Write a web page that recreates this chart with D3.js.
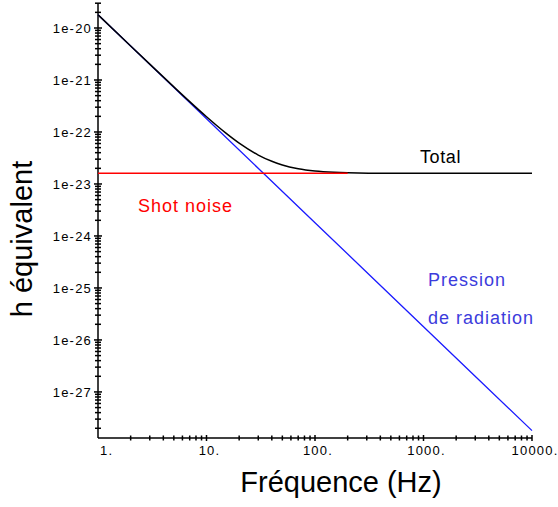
<!DOCTYPE html>
<html>
<head>
<meta charset="utf-8">
<script src="https://cdn.jsdelivr.net/npm/d3@7"></script>
<style>
  html, body { margin: 0; padding: 0; background: #ffffff; }
  svg { display: block; }
  text { font-family: "Liberation Sans", Arial, sans-serif; }
</style>
</head>
<body>
<svg id="chart" width="558" height="507"></svg>
<script>
// ---- Data ----
const xTickValues = [1, 10, 100, 1000, 10000];
const xTickLabels = ["1.", "10.", "100.", "1000.", "10000."];
const yTickValues = [1e-20, 1e-21, 1e-22, 1e-23, 1e-24, 1e-25, 1e-26, 1e-27];
const yTickLabels = ["1e-20", "1e-21", "1e-22", "1e-23", "1e-24", "1e-25", "1e-26", "1e-27"];

// Pression de radiation (blue)
const radFreq   = [1, 10, 100, 1000, 10000];
const radValues = [1.8e-20, 1.8e-22, 1.8e-24, 1.8e-26, 1.8e-28];

// Shot noise (red)
const shotFreq   = [1, 200];
const shotValues = [1.6e-23, 1.6e-23];

// Total (black)
const totalFreq   = [1, 2, 3, 5, 7, 10, 15, 20, 30, 40, 50, 70, 100, 150, 200, 500, 10000];
const totalValues = [1.80e-20, 4.52e-21, 2.02e-21, 7.36e-22, 3.83e-22, 1.96e-22, 9.6e-23, 6.1e-23,
                     3.6e-23, 2.73e-23, 2.32e-23, 1.97e-23, 1.78e-23, 1.68e-23, 1.645e-23, 1.607e-23, 1.6e-23];

// ---- Layout ----
const svg = d3.select("#chart");
const x = d3.scaleLog().domain([1, 10000]).range([98, 532]);
const y = d3.scaleLog().domain([1.3e-28, 3e-20]).range([438, 3.2]);

// minor ticks
function logTicks(lo, hi) {
  const out = [];
  for (let e = Math.floor(Math.log10(lo)) - 1; e <= Math.ceil(Math.log10(hi)); e++) {
    for (let m = 1; m <= 9; m++) {
      const v = m * Math.pow(10, e);
      if (v >= lo * 0.999 && v <= hi * 1.001) out.push({v, major: m === 1});
    }
  }
  return out;
}

const axes = svg.append("g").attr("stroke", "#000").attr("stroke-width", 1.5);
// y axis line
axes.append("line").attr("x1", 98).attr("x2", 98).attr("y1", y.range()[1]).attr("y2", 438);
// x axis line
axes.append("line").attr("x1", 98).attr("x2", 532).attr("y1", 438).attr("y2", 438);

// y ticks
axes.selectAll("line.yt").data(logTicks(...y.domain())).join("line")
  .attr("class", "yt")
  .attr("x1", d => 98 - (d.major ? 4 : 3)).attr("x2", d => 98 + (d.major ? 4 : 3))
  .attr("y1", d => y(d.v)).attr("y2", d => y(d.v));

// x ticks
axes.selectAll("line.xt").data(logTicks(...x.domain()).filter(d => d.v > 1)).join("line")
  .attr("class", "xt")
  .attr("x1", d => x(d.v)).attr("x2", d => x(d.v))
  .attr("y1", d => 438 - (d.major ? 3 : 2.5)).attr("y2", d => 438 + (d.major ? 3 : 2.5));

// y tick labels
svg.append("g").selectAll("text").data(yTickValues).join("text")
  .attr("x", 92).attr("y", d => y(d)).attr("dy", "0.36em")
  .attr("text-anchor", "end")
  .attr("font-size", 13).attr("letter-spacing", 1.2).attr("fill", "#000")
  .text((d, i) => yTickLabels[i]);

// x tick labels
svg.append("g").selectAll("text").data(xTickValues).join("text")
  .attr("x", (d, i) => i === 0 ? x(d) + 2 : x(d) + 3)
  .attr("y", 455)
  .attr("text-anchor", (d, i) => i === 0 ? "start" : "middle")
  .attr("font-size", 13).attr("letter-spacing", 1.2).attr("fill", "#000")
  .text((d, i) => xTickLabels[i]);

// axis titles
svg.append("text").attr("x", 341).attr("y", 492).attr("text-anchor", "middle")
  .attr("font-size", 29).attr("fill", "#000").text("Fréquence (Hz)");
svg.append("text").attr("transform", "translate(32,239) rotate(-90)").attr("text-anchor", "middle")
  .attr("font-size", 29).attr("fill", "#000").text("h équivalent");

// ---- Lines ----
const line = d3.line().x(d => x(d[0])).y(d => y(d[1])).curve(d3.curveMonotoneX);

svg.append("path").datum(radFreq.map((f, i) => [f, radValues[i]]))
  .attr("d", line).attr("fill", "none").attr("stroke", "#1a1aff").attr("stroke-width", 1.3);

svg.append("path").datum(totalFreq.map((f, i) => [f, totalValues[i]]))
  .attr("d", line).attr("fill", "none").attr("stroke", "#000").attr("stroke-width", 1.5);

svg.append("path").datum(shotFreq.map((f, i) => [f, shotValues[i]]))
  .attr("d", line).attr("fill", "none").attr("stroke", "#ff0000").attr("stroke-width", 1.5);

// ---- Annotations ----
svg.append("text").attr("x", 420).attr("y", 163).attr("font-size", 18).attr("letter-spacing", 0.6)
  .attr("fill", "#000").text("Total");
svg.append("text").attr("x", 138).attr("y", 212).attr("font-size", 18).attr("letter-spacing", 1)
  .attr("fill", "#ff0000").text("Shot noise");
svg.append("text").attr("x", 428).attr("y", 286).attr("font-size", 18).attr("letter-spacing", 1)
  .attr("fill", "#3c3cdc").text("Pression");
svg.append("text").attr("x", 428).attr("y", 324).attr("font-size", 18).attr("letter-spacing", 1)
  .attr("fill", "#3c3cdc").text("de radiation");
</script>
</body>
</html>
